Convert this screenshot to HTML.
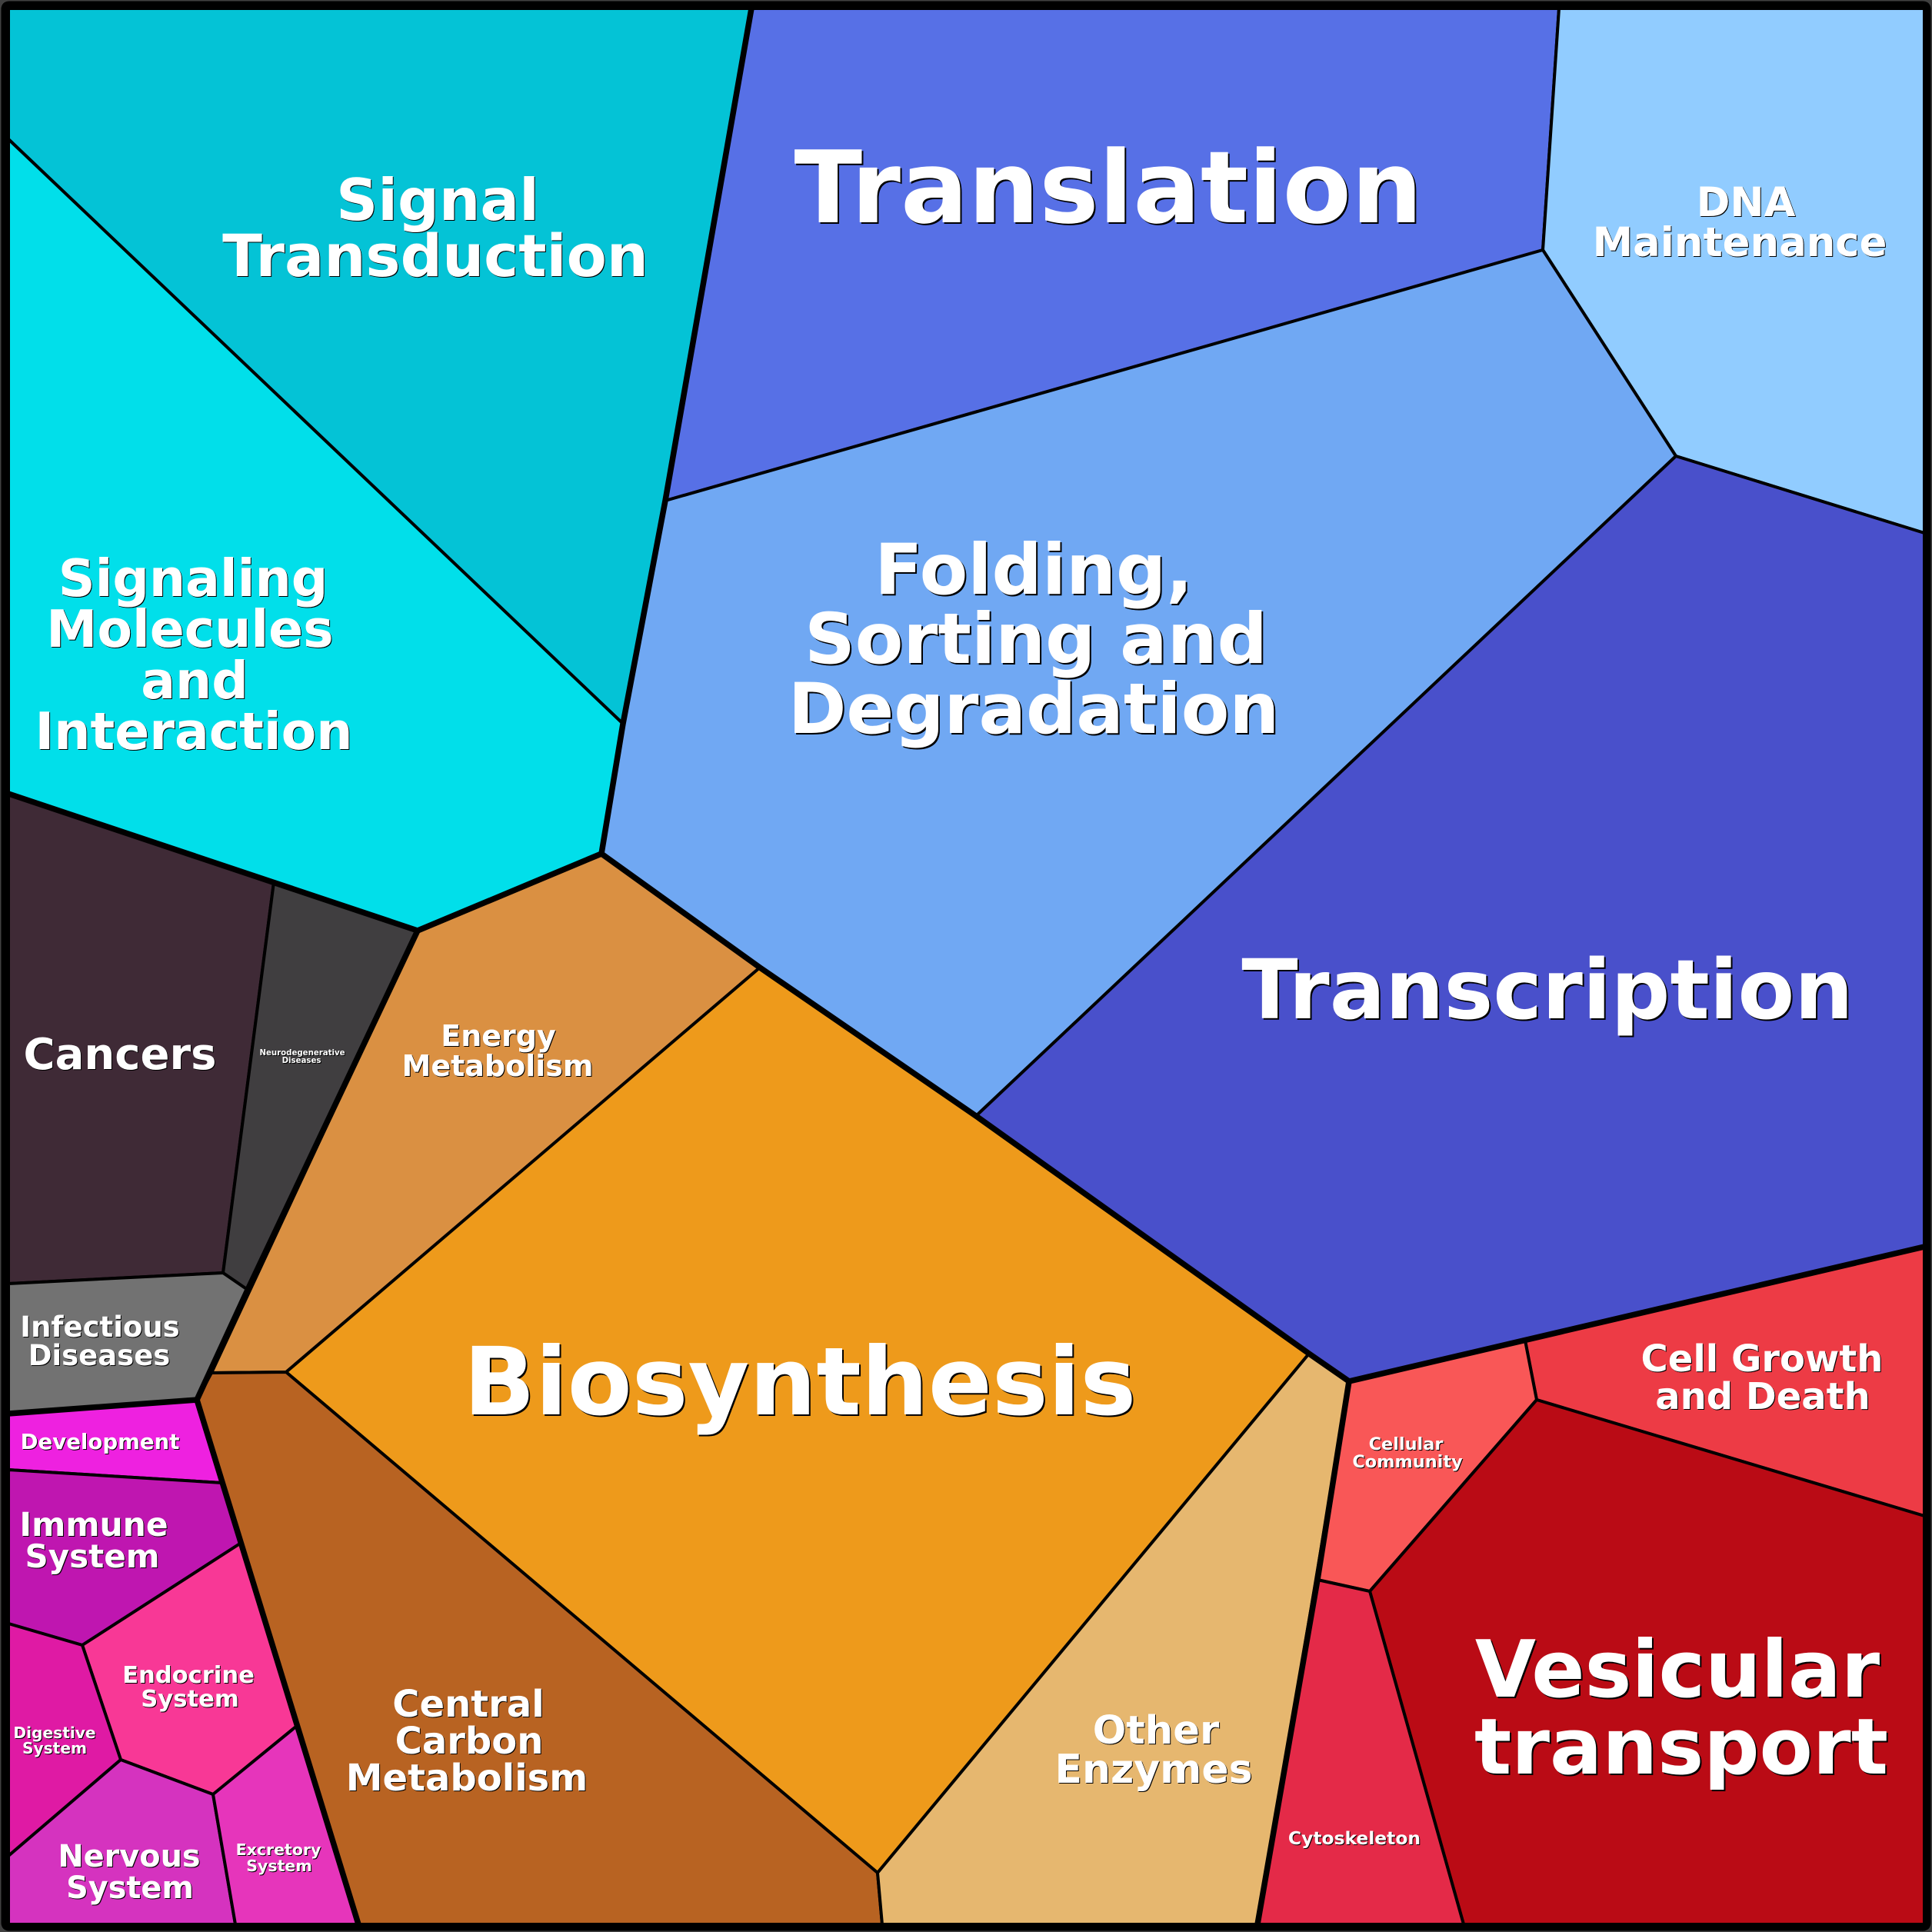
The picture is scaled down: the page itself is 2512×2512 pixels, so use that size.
<!DOCTYPE html>
<html><head><meta charset="utf-8"><style>
html,body{margin:0;padding:0;background:#404040;width:2512px;height:2512px;overflow:hidden}
svg{display:block}
text{font-family:"DejaVu Sans",sans-serif;font-weight:bold;fill:#fff;text-anchor:middle}
.a{filter:drop-shadow(2px 2px 0 #000)}
.b{filter:drop-shadow(1.5px 1.5px 0 #000)}
.c{filter:drop-shadow(1px 1px 0 #000)}
</style></head><body>
<svg xmlns="http://www.w3.org/2000/svg" width="2512" height="2512" viewBox="0 0 2512 2512">
<rect width="2512" height="2512" fill="#404040"/>
<rect x="1.5" y="1.5" width="2509" height="2509" rx="10" fill="#000"/>
<g stroke="#000" stroke-width="4" stroke-linejoin="round">
<polygon fill="#04C3D6" points="11,11 977,11 865,651 810,941 11,181"/>
<polygon fill="#01DFEA" points="11,181 810,941 782,1110 543,1210 11,1032"/>
<polygon fill="#5770E6" points="977,11 2027,11 2006,325 865,651"/>
<polygon fill="#91CCFF" points="2027,11 2502,11 2502,693 2179,593 2006,325"/>
<polygon fill="#70A8F3" points="865,651 2006,325 2179,593 1269,1451 988,1258 782,1110 810,941"/>
<polygon fill="#4950CB" points="2179,593 2502,693 2502,1621 1754,1796 1702,1760 1269,1451"/>
<polygon fill="#3F2A36" points="11,1032 356,1147 290,1655 11,1669"/>
<polygon fill="#403E40" points="356,1147 543,1210 322,1677 290,1655"/>
<polygon fill="#727272" points="11,1669 290,1655 322,1677 256,1820 11,1838"/>
<polygon fill="#DA9042" points="543,1210 782,1110 988,1258 372,1784 275,1785"/>
<polygon fill="#EE9A1B" points="988,1258 1269,1451 1702,1760 1141,2435 372,1784"/>
<polygon fill="#B86322" points="275,1785 372,1784 1141,2435 1147,2502 466,2502 256,1820"/>
<polygon fill="#E6B76F" points="1702,1760 1754,1796 1636,2502 1147,2502 1141,2435"/>
<polygon fill="#ED3B45" points="1983,1743 2502,1621 2502,1971 1998,1820"/>
<polygon fill="#F95757" points="1754,1796 1983,1743 1998,1820 1781,2069 1713,2054"/>
<polygon fill="#BA0B15" points="1998,1820 2502,1971 2502,2502 1903,2502 1781,2069"/>
<polygon fill="#E42A48" points="1713,2054 1781,2069 1903,2502 1636,2502"/>
<polygon fill="#EE21E0" points="11,1838 256,1820 289,1928 11,1911"/>
<polygon fill="#BF16B0" points="11,1911 289,1928 312,2007 107,2139 11,2111"/>
<polygon fill="#F83896" points="312,2007 386,2244 277,2333 157,2288 107,2139"/>
<polygon fill="#DF1AA4" points="11,2111 107,2139 157,2288 11,2413"/>
<polygon fill="#D533BF" points="11,2413 157,2288 277,2333 306,2502 11,2502"/>
<polygon fill="#E635BB" points="277,2333 386,2244 466,2502 306,2502"/>
</g>
<g fill="none" stroke="#000" stroke-width="7.5" stroke-linejoin="round" stroke-linecap="round">
<polyline points="977,11 865,651 810,941 782,1110 988,1258 1269,1451 1702,1760 1754,1796 2502,1621"/>
<polyline points="11,1032 543,1210 782,1110"/>
<polyline points="543,1210 322,1677 256,1820 466,2502"/>
<polyline points="11,1838 256,1820"/>
<polyline points="1754,1796 1713,2054 1635,2502"/>
</g>
<path fill="#000" fill-rule="evenodd" d="M2 11.5Q2 2 11.5 2H2500.5Q2510 2 2510 11.5V2500.5Q2510 2510 2500.5 2510H11.5Q2 2510 2 2500.5ZM12 12V2500H2500V12Z"/>
<g class="a">
<text x="1441" y="289" font-size="130">Translation</text>
<text x="2012" y="1324" font-size="107.3">Transcription</text>
<text x="1040" y="1839" font-size="122.3">Biosynthesis</text>
<text x="2181" y="2206" font-size="102.2">Vesicular</text>
<text x="2186" y="2306" font-size="101">transport</text>
<text x="1344" y="772" font-size="91.2">Folding,</text>
<text x="1347" y="862" font-size="91.2">Sorting and</text>
<text x="1344" y="953" font-size="91.2">Degradation</text>
</g>
<g class="b">
<text x="569" y="286" font-size="75.2">Signal</text>
<text x="566" y="359" font-size="76">Transduction</text>
<text x="251" y="775" font-size="66.4">Signaling</text>
<text x="247" y="841" font-size="66.4">Molecules</text>
<text x="253" y="908" font-size="66.4">and</text>
<text x="252" y="974" font-size="66.4">Interaction</text>
<text x="2270" y="281" font-size="52.8">DNA</text>
<text x="2262" y="333" font-size="52.8">Maintenance</text>
<text x="156" y="1390" font-size="56">Cancers</text>
<text x="648" y="1360" font-size="38">Energy</text>
<text x="647" y="1399" font-size="38">Metabolism</text>
<text x="130" y="1738" font-size="37">Infectious</text>
<text x="129" y="1775" font-size="37">Diseases</text>
<text x="130" y="1884" font-size="27.6">Development</text>
<text x="122" y="1997" font-size="42.4">Immune</text>
<text x="120" y="2038" font-size="42">System</text>
<text x="245" y="2188" font-size="30.6">Endocrine</text>
<text x="247" y="2219" font-size="30.6">System</text>
<text x="168" y="2427" font-size="39.8">Nervous</text>
<text x="169" y="2468" font-size="39.8">System</text>
<text x="609" y="2232" font-size="48">Central</text>
<text x="610" y="2280" font-size="48">Carbon</text>
<text x="607" y="2328" font-size="48">Metabolism</text>
<text x="1503" y="2267" font-size="51.2">Other</text>
<text x="1500" y="2318" font-size="52">Enzymes</text>
<text x="2291" y="1783" font-size="48">Cell Growth</text>
<text x="2292" y="1832" font-size="48">and Death</text>
</g>
<g class="c">
<text x="393" y="1372" font-size="10.2">Neurodegenerative</text>
<text x="392" y="1382" font-size="10.2">Diseases</text>
<text x="71" y="2260" font-size="20.2">Digestive</text>
<text x="71" y="2280" font-size="20.2">System</text>
<text x="362" y="2412" font-size="20.5">Excretory</text>
<text x="363" y="2433" font-size="20.5">System</text>
<text x="1828" y="1885" font-size="22.4">Cellular</text>
<text x="1830" y="1908" font-size="22.4">Community</text>
<text x="1761" y="2398" font-size="23.4">Cytoskeleton</text>
</g>
</svg>
</body></html>
